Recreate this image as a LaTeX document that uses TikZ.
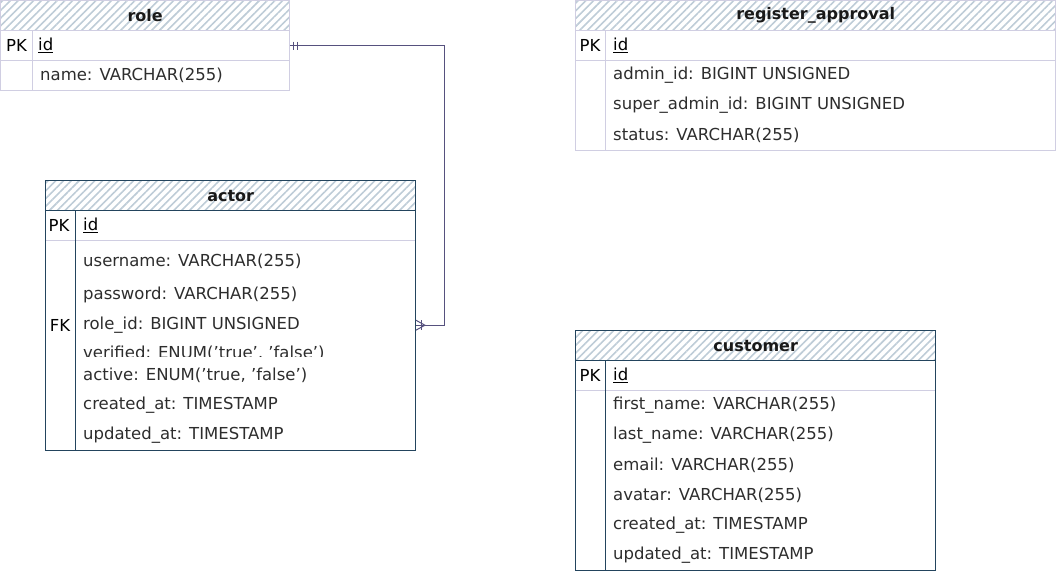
\documentclass[tikz,border=0pt]{standalone}
\usepackage{fontspec}
\setmainfont{DejaVu Sans}
\usetikzlibrary{patterns.meta,calc}
\definecolor{lav}{RGB}{208,206,226}
\definecolor{dk}{RGB}{35,68,93}
\definecolor{hatch}{RGB}{190,204,215}
\definecolor{relc}{RGB}{86,81,126}
\definecolor{txt}{RGB}{45,45,45}
\tikzset{
  hdr/.style={rectangle, anchor=north west, minimum height=30pt, inner sep=0pt,
    font=\fontsize{16}{16}\selectfont\bfseries, text=black!90, fill=white,
    preaction={pattern={Lines[angle=45,distance=5.5pt,line width=1.6pt]}, pattern color=hatch}},
  row/.style={rectangle, anchor=north west, minimum height=30pt, inner sep=0pt},
  fld/.style={anchor=west, inner sep=0pt, font=\fontsize{16.5}{16.5}\selectfont, text=txt},
  key/.style={inner sep=0pt, font=\fontsize{16.5}{16.5}\selectfont, text=black},
  idf/.style={anchor=west, inner sep=0pt, font=\fontsize{16.5}{16.5}\selectfont, text=black},
  edgeline/.style={line width=1pt},
  relline/.style={draw=relc, line width=1pt},
}
\begin{document}
\begin{tikzpicture}[x=1pt,y=-1pt]
\useasboundingbox (0,0) rectangle (1056,571);

% ---------- role ----------
\node[hdr, minimum width=289pt, fill=none] (roleH) at (0.5,0.5) {role};
\node[row, minimum width=289pt] (roleR1) at (0.5,30.5) {};
\node[row, minimum width=289pt] (roleR2) at (0.5,60.5) {};
\draw[lav, edgeline] (roleH.north west) rectangle (roleR2.south east);
\draw[lav, edgeline] (roleH.south west) -- (roleH.south east);
\draw[lav, edgeline] (roleR1.south west) -- (roleR1.south east);
\draw[lav, edgeline] ($(roleR1.north west)+(32,0)$) -- ($(roleR2.south west)+(32,0)$);
\node[key] (rolePK) at (16.5,45) {PK};
\node[idf] (roleId) at (38,45) {\underline{id}};
\node[fld] (roleName) at (40,75) {name: VARCHAR(255)};

% ---------- register_approval ----------
\node[hdr, minimum width=480pt, fill=none] (raH) at (575.5,0.5) {register\_approval};
\node[row, minimum width=480pt] (raR1) at (575.5,30.5) {};
\node[row, minimum width=480pt, minimum height=90pt] (raR2) at (575.5,60.5) {};
\draw[lav, edgeline] (raH.north west) rectangle (raR2.south east);
\draw[lav, edgeline] (raH.south west) -- (raH.south east);
\draw[lav, edgeline] (raR1.south west) -- (raR1.south east);
\draw[lav, edgeline] ($(raR1.north west)+(30,0)$) -- ($(raR2.south west)+(30,0)$);
\node[key] (raPK) at (590,45) {PK};
\node[idf] (raId) at (613,45) {\underline{id}};
\node[fld] (raF1) at (613,75) {admin\_id: BIGINT UNSIGNED};
\node[fld] (raF2) at (613,105) {super\_admin\_id: BIGINT UNSIGNED};
\node[fld] (raF3) at (613,135) {status: VARCHAR(255)};

% ---------- actor ----------
\node[hdr, minimum width=370pt, fill=none] (acH) at (45.5,180.5) {actor};
\node[row, minimum width=370pt] (acR1) at (45.5,210.5) {};
\node[row, minimum width=370pt, minimum height=210pt] (acR2) at (45.5,240.5) {};
\node[row, minimum width=370pt] (acFK) at (45.5,310) {};
\draw[lav, edgeline] (acR1.south west) -- (acR1.south east);
\draw[dk, edgeline] (acH.north west) rectangle (acR2.south east);
\draw[dk, edgeline] (acH.south west) -- (acH.south east);
\draw[dk, edgeline] ($(acR1.north west)+(30,0)$) -- ($(acR2.south west)+(30,0)$);
\node[key] (acPK) at (59,225) {PK};
\node[idf] (acId) at (83,225) {\underline{id}};
\node[key] (acFKk) at (60,325) {FK};
\node[fld] (acF1) at (83,261) {username: VARCHAR(255)};
\node[fld] (acF2) at (83,295) {password: VARCHAR(255)};
\node[fld] (acF3) at (83,325) {role\_id: BIGINT UNSIGNED};
\begin{scope}
  \clip (76,338) rectangle (414,356);
  \node[fld] (acF4) at (83,353) {verified: ENUM('true', 'false')};
\end{scope}
\node[fld] (acF5) at (83,375) {active: ENUM('true, 'false')};
\node[fld] (acF6) at (83,405) {created\_at: TIMESTAMP};
\node[fld] (acF7) at (83,435) {updated\_at: TIMESTAMP};

% ---------- customer ----------
\node[hdr, minimum width=360pt, fill=none] (cuH) at (575.5,330.5) {customer};
\node[row, minimum width=360pt] (cuR1) at (575.5,360.5) {};
\node[row, minimum width=360pt, minimum height=180pt] (cuR2) at (575.5,390.5) {};
\draw[lav, edgeline] (cuR1.south west) -- (cuR1.south east);
\draw[dk, edgeline] (cuH.north west) rectangle (cuR2.south east);
\draw[dk, edgeline] (cuH.south west) -- (cuH.south east);
\draw[dk, edgeline] ($(cuR1.north west)+(30,0)$) -- ($(cuR2.south west)+(30,0)$);
\node[key] (cuPK) at (590,375) {PK};
\node[idf] (cuId) at (613,375) {\underline{id}};
\node[fld] (cuF1) at (613,405) {first\_name: VARCHAR(255)};
\node[fld] (cuF2) at (613,435) {last\_name: VARCHAR(255)};
\node[fld] (cuF3) at (613,465) {email: VARCHAR(255)};
\node[fld] (cuF4) at (613,495) {avatar: VARCHAR(255)};
\node[fld] (cuF5) at (613,525) {created\_at: TIMESTAMP};
\node[fld] (cuF6) at (613,555) {updated\_at: TIMESTAMP};

% ---------- relation role.id -> actor.role_id ----------
\draw[relline] (roleR1.east) -- ++(155,0) |- (acFK.east);
% mandatory one at role
\draw[relline] ($(roleR1.east)+(4,-4)$) -- ++(0,8);
\draw[relline] ($(roleR1.east)+(7.5,-4)$) -- ++(0,8);
% one-or-many at actor
\draw[relline] ($(acFK.east)+(0,-5)$) -- ($(acFK.east)+(9,0)$) -- ($(acFK.east)+(0,5)$);
\draw[relline] ($(acFK.east)+(6,-5)$) -- ++(0,10);
\end{tikzpicture}
\end{document}
